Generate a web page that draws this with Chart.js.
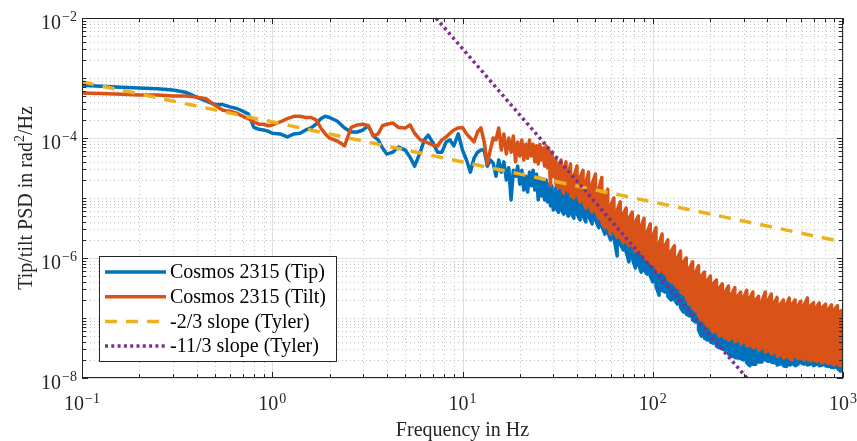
<!DOCTYPE html>
<html>
<head>
<meta charset="utf-8">
<script src="https://cdn.jsdelivr.net/npm/chart.js@4.4.0/dist/chart.umd.min.js"></script>
<style>
  html, body { margin: 0; padding: 0; background: #fff; }
</style>
</head>
<body>
<canvas id="psdChart" width="857" height="441"></canvas>
<script>
// PSD tip/tilt, valeurs

// partie basse fréquence : une seule valeur par fréquence
const freqHz = [
  0.1, 0.15, 0.2, 0.25, 0.3, 0.35, 0.4, 0.45, 0.5, 0.55,
  0.6, 0.65, 0.7, 0.75, 0.8, 0.85, 0.9, 0.95, 1.0, 1.1,
  1.2, 1.3, 1.4, 1.5, 1.6, 1.7, 1.8, 1.9, 2.0, 2.2,
  2.4, 2.6, 2.8, 3.0, 3.2, 3.4, 3.6, 3.8, 4.0, 4.3,
  4.6, 5.0, 5.3, 5.6, 6.0, 6.3, 6.6, 7.0, 7.4, 7.8,
  8.2, 8.6, 9.0, 9.5, 10, 10.5, 11, 11.5, 12, 12.5,
  13, 13.5, 14, 14.5,
  15, 15.5, 16, 16.5, 17, 17.5, 18, 18.5, 19, 19.5,
  20, 20.5, 21, 21.5, 22, 22.5, 23, 23.5, 24, 24.5,
  25, 25.5, 26, 26.5, 27, 27.5, 28, 28.5, 29, 29.5,
  30
];

const tipPsd = [
  7.6e-4, 7.1e-4, 6.8e-4, 6.6e-4, 6.3e-4, 5.8e-4, 4.8e-4, 4.1e-4, 3.6e-4, 3.6e-4,
  3.3e-4, 3.1e-4, 2.8e-4, 2.5e-4, 1.5e-4, 1.4e-4, 1.36e-4, 1.3e-4, 1.2e-4, 1.17e-4,
  1.04e-4, 1.17e-4, 1.2e-4, 1.36e-4, 1.47e-4, 1.7e-4, 2.1e-4, 2.3e-4, 2.2e-4, 1.9e-4,
  1.47e-4, 1.26e-4, 1.26e-4, 1.36e-4, 1.6e-4, 1.08e-4, 9.3e-5, 6.8e-5, 5.4e-5, 5.8e-5,
  7.1e-5, 6.3e-5, 4.8e-5, 3.4e-5, 5.8e-5, 9.3e-5, 1.12e-4, 8.25e-5, 5.8e-5, 5.8e-5,
  8.6e-5, 9.3e-5, 7.4e-5, 1.17e-4, 6.3e-5, 4.3e-5, 2.7e-5, 4.6e-5, 5.8e-5, 6.3e-5,
  6.3e-5, 3.4e-5, 4.3e-5, 3.8e-5,
  2.3e-5, 4.3e-5, 2.7e-5, 4.0e-5, 2.0e-5, 3.2e-5, 9.3e-6, 2.9e-5, 2.3e-5, 3.4e-5,
  1.7e-5, 2.9e-5, 1.36e-5, 2.3e-5, 1.26e-5, 2.7e-5, 1.6e-5, 2.9e-5, 1.36e-5, 2.5e-5,
  9.3e-6, 2.15e-5, 1.08e-5, 1.85e-5, 9.3e-6, 2.0e-5, 8.6e-6, 1.7e-5, 7.4e-6, 1.6e-5,
  6.3e-6
];

const tiltPsd = [
  5.6e-4, 5.4e-4, 5.2e-4, 5.2e-4, 5.0e-4, 5.0e-4, 4.8e-4, 4.5e-4, 3.5e-4, 2.9e-4,
  2.8e-4, 2.6e-4, 2.3e-4, 2.1e-4, 1.85e-4, 1.7e-4, 1.7e-4, 1.6e-4, 1.65e-4, 1.85e-4,
  2.1e-4, 2.3e-4, 2.3e-4, 2.2e-4, 2.2e-4, 2.0e-4, 1.47e-4, 1.17e-4, 1.0e-4, 8.9e-5,
  7.4e-5, 1.5e-4, 1.65e-4, 1.7e-4, 1.6e-4, 1.08e-4, 1.17e-4, 1.6e-4, 1.7e-4, 1.78e-4,
  1.5e-4, 1.47e-4, 1.65e-4, 1.2e-4, 9.3e-5, 8.9e-5, 8.25e-5, 7.6e-5, 7.4e-5, 9.3e-5,
  1.04e-4, 1.2e-4, 1.36e-4, 1.47e-4, 1.5e-4, 1.17e-4, 1.0e-4, 8.6e-5, 1.26e-4, 1.47e-4,
  8.6e-5, 3.7e-5, 6.3e-5, 1.0e-4,
  9.3e-5, 1.47e-4, 6.3e-5, 1.17e-4, 5.4e-5, 1.0e-4, 5.8e-5, 1.08e-4, 4.0e-5, 8.6e-5,
  5.0e-5, 9.3e-5, 4.3e-5, 7.9e-5, 4.6e-5, 9.3e-5, 5.0e-5, 7.9e-5, 4.0e-5, 7.4e-5,
  3.7e-5, 7.9e-5, 4.3e-5, 6.8e-5, 3.4e-5, 7.4e-5, 3.2e-5, 6.3e-5, 1.6e-5, 5.8e-5,
  2.3e-5
];

// partie haute fréquence : bande bruitée, valeur haute et basse à chaque fréquence
const bandFreqHz = [
  31, 32, 33, 34, 35, 36, 37, 38.5, 40, 41.5,
  43, 44.5, 46, 48, 50, 52, 54, 56, 58, 60,
  62.5, 65, 67.5, 70, 72.5, 75, 78, 81, 84, 87,
  90, 93.5, 97, 100, 104, 108, 112, 116, 120, 125,
  130, 135, 140, 145, 150, 156, 162, 168, 174, 180,
  187, 194, 201, 208, 216, 224, 232, 240, 250, 260,
  270, 280, 290, 300, 312, 324, 336, 348, 360, 375,
  390, 405, 420, 435, 450, 468, 486, 504, 522, 540,
  560, 580, 600, 625, 650, 675, 700, 725, 750, 780,
  810, 840, 870, 900, 935, 970, 1000
];

const tipBandHigh = [
  1.5e-5, 1.17e-5, 1.6e-5, 1.08e-5, 1.26e-5, 1.0e-5, 1.36e-5, 9.3e-6, 1.17e-5, 8.6e-6,
  1.08e-5, 7.9e-6, 1.7e-5, 7.9e-6, 1.0e-5, 6.3e-6, 7.9e-6, 5.4e-6, 6.3e-6, 4.3e-6,
  5.4e-6, 3.4e-6, 4.3e-6, 2.9e-6, 3.4e-6, 2.5e-6, 2.7e-6, 2.0e-6, 2.15e-6, 1.6e-6,
  1.8e-6, 1.36e-6, 1.5e-6, 1.08e-6, 1.17e-6, 8.6e-7, 9.3e-7, 7.4e-7, 7.4e-7, 5.8e-7,
  5.8e-7, 4.3e-7, 4.3e-7, 3.4e-7, 3.2e-7, 2.7e-7, 2.3e-7, 2.0e-7, 1.7e-7, 1.5e-7,
  1.26e-7, 1.08e-7, 1.0e-7, 9.3e-8, 7.9e-8, 7.4e-8, 6.8e-8, 6.3e-8, 5.8e-8, 5.4e-8,
  5.0e-8, 5.0e-8, 4.6e-8, 4.6e-8, 4.3e-8, 4.3e-8, 4.0e-8, 4.0e-8, 3.7e-8, 3.7e-8,
  3.7e-8, 3.55e-8, 3.55e-8, 3.4e-8, 3.4e-8, 3.3e-8, 3.2e-8, 3.2e-8, 3.3e-8, 3.2e-8,
  3.2e-8, 3.05e-8, 3.05e-8, 3.05e-8, 2.9e-8, 2.9e-8, 2.9e-8, 2.8e-8, 2.8e-8, 2.8e-8,
  2.7e-8, 2.7e-8, 2.7e-8, 2.6e-8, 2.6e-8, 2.5e-8, 2.5e-8
];

const tipBandLow = [
  6.8e-6, 5.8e-6, 6.6e-6, 5.4e-6, 6.1e-6, 5.0e-6, 5.8e-6, 4.6e-6, 5.4e-6, 4.3e-6,
  5.0e-6, 4.0e-6, 5.0e-6, 3.7e-6, 4.3e-6, 3.2e-6, 3.4e-6, 2.5e-6, 2.7e-6, 2.0e-6,
  2.15e-6, 1.08e-6, 1.7e-6, 1.36e-6, 1.26e-6, 8.6e-7, 1.0e-6, 6.8e-7, 7.9e-7, 5.8e-7,
  6.3e-7, 5.4e-7, 5.0e-7, 4.0e-7, 3.4e-7, 2.4e-7, 2.9e-7, 2.7e-7, 2.3e-7, 2.0e-7,
  2.0e-7, 1.7e-7, 1.5e-7, 1.26e-7, 1.17e-7, 1.08e-7, 9.3e-8, 8.6e-8, 6.3e-8, 5.0e-8,
  4.6e-8, 4.3e-8, 4.0e-8, 3.8e-8, 3.4e-8, 3.2e-8, 3.05e-8, 2.9e-8, 2.5e-8, 2.3e-8,
  2.2e-8, 2.15e-8, 2.1e-8, 2.0e-8, 1.8e-8, 1.6e-8, 1.7e-8, 1.7e-8, 1.85e-8, 1.85e-8,
  2.0e-8, 1.9e-8, 1.85e-8, 1.8e-8, 1.65e-8, 1.7e-8, 1.6e-8, 1.55e-8, 1.65e-8, 1.7e-8,
  1.6e-8, 1.7e-8, 1.8e-8, 1.7e-8, 1.65e-8, 1.7e-8, 1.6e-8, 1.7e-8, 1.6e-8, 1.65e-8,
  1.6e-8, 1.55e-8, 1.5e-8, 1.5e-8, 1.45e-8, 1.3e-8, 1.7e-8
];

const tiltBandHigh = [
  4.6e-5, 3.4e-5, 4.3e-5, 2.9e-5, 4.0e-5, 2.5e-5, 3.7e-5, 2.3e-5, 3.4e-5, 2.2e-5,
  2.9e-5, 1.8e-5, 2.7e-5, 1.7e-5, 2.5e-5, 1.4e-5, 2.2e-5, 1.1e-5, 1.4e-5, 7.4e-6,
  1.0e-5, 6.3e-6, 8.6e-6, 5.4e-6, 6.8e-6, 4.6e-6, 5.8e-6, 4.0e-6, 5.0e-6, 3.4e-6,
  4.6e-6, 2.7e-6, 3.7e-6, 2.3e-6, 3.2e-6, 1.7e-6, 2.5e-6, 1.6e-6, 2.0e-6, 1.3e-6,
  1.6e-6, 1.0e-6, 1.3e-6, 8.6e-7, 1.0e-6, 6.8e-7, 8.6e-7, 5.8e-7, 7.4e-7, 5.0e-7,
  5.8e-7, 4.3e-7, 5.0e-7, 3.7e-7, 4.3e-7, 3.2e-7, 3.7e-7, 2.7e-7, 3.4e-7, 2.5e-7,
  3.2e-7, 2.3e-7, 2.7e-7, 2.15e-7, 2.9e-7, 2.15e-7, 2.7e-7, 2.0e-7, 2.3e-7, 1.9e-7,
  2.7e-7, 2.0e-7, 2.5e-7, 1.8e-7, 2.2e-7, 1.7e-7, 2.0e-7, 1.65e-7, 2.15e-7, 1.7e-7,
  2.0e-7, 1.6e-7, 1.9e-7, 1.65e-7, 2.15e-7, 1.6e-7, 1.8e-7, 1.5e-7, 1.78e-7, 1.5e-7,
  1.7e-7, 1.4e-7, 1.65e-7, 1.36e-7, 1.6e-7, 1.3e-7, 1.36e-7
];

const tiltBandLow = [
  1.7e-5, 1.5e-5, 1.6e-5, 1.2e-5, 1.5e-5, 1.3e-5, 1.1e-5, 1.0e-5, 1.2e-5, 8.6e-6,
  9.3e-6, 6.8e-6, 7.9e-6, 5.8e-6, 6.3e-6, 4.6e-6, 4.0e-6, 3.2e-6, 3.4e-6, 2.5e-6,
  2.9e-6, 2.2e-6, 2.3e-6, 1.8e-6, 2.0e-6, 1.6e-6, 1.7e-6, 1.3e-6, 1.4e-6, 1.2e-6,
  1.1e-6, 9.3e-7, 8.6e-7, 7.9e-7, 6.8e-7, 5.8e-7, 6.3e-7, 5.4e-7, 4.6e-7, 4.0e-7,
  3.7e-7, 3.2e-7, 2.7e-7, 2.5e-7, 2.2e-7, 1.7e-7, 1.5e-7, 1.3e-7, 1.1e-7, 9.3e-8,
  8.6e-8, 7.4e-8, 6.8e-8, 5.8e-8, 6.3e-8, 5.0e-8, 5.4e-8, 4.6e-8, 4.3e-8, 4.6e-8,
  4.0e-8, 4.3e-8, 3.7e-8, 4.0e-8, 3.4e-8, 3.5e-8, 3.2e-8, 3.4e-8, 2.9e-8, 3.2e-8,
  2.7e-8, 2.9e-8, 2.5e-8, 2.7e-8, 2.3e-8, 2.4e-8, 2.15e-8, 2.3e-8, 2.15e-8, 2.0e-8,
  2.4e-8, 2.1e-8, 2.2e-8, 2.0e-8, 2.1e-8, 1.95e-8, 2.0e-8, 1.9e-8, 1.95e-8, 1.8e-8,
  1.9e-8, 1.75e-8, 1.8e-8, 1.65e-8, 1.75e-8, 1.6e-8, 2.0e-8
];

// droites de Tyler (extrémités)
const shallowFreq = [0.1, 1000];
const shallowPsd = [8.6e-4, 1.85e-6];
const steepFreq = [7.26, 312.6];
const steepPsd = [1e-2, 1e-8];

const xTickExponents = [-1, 0, 1, 2, 3];
const yTickExponents = [-2, -4, -6, -8];
const legendLabels = ['Cosmos 2315 (Tip)', 'Cosmos 2315 (Tilt)', '-2/3 slope (Tyler)', '-11/3 slope (Tyler)'];

const serif = '"Liberation Serif", "Times New Roman", serif';
const axisColor = '#262626';

function toPoints(xs, ys) {
  return xs.map((x, i) => ({ x: x, y: ys[i] }));
}

// ligne simple puis bande : à chaque fréquence on passe par le haut et le bas
function seriesPoints(psd, bandHigh, bandLow) {
  const pts = toPoints(freqHz, psd);
  bandFreqHz.forEach((f, k) => {
    if (k % 2 === 0) {
      pts.push({ x: f, y: bandHigh[k] }, { x: f, y: bandLow[k] });
    } else {
      pts.push({ x: f, y: bandLow[k] }, { x: f, y: bandHigh[k] });
    }
  });
  return pts;
}

// "10" + exposant
function drawPower(ctx, exp, x, y, align) {
  const sup = exp < 0 ? '\u2212' + Math.abs(exp) : String(exp);
  ctx.font = '20px ' + serif;
  const wBase = ctx.measureText('10').width;
  ctx.font = '14px ' + serif;
  const wSup = ctx.measureText(sup).width;
  const total = wBase + 1 + wSup;
  const left = align === 'right' ? x - total : x - total / 2;
  ctx.textAlign = 'left';
  ctx.textBaseline = 'alphabetic';
  ctx.font = '20px ' + serif;
  ctx.fillText('10', left, y);
  ctx.font = '14px ' + serif;
  ctx.fillText(sup, left + wBase + 1, y - 7.5);
}

function minorValues(fromExp, toExp) {
  const vals = [];
  for (let e = fromExp; e < toExp; e++) {
    for (let m = 2; m <= 9; m++) vals.push(m * Math.pow(10, e));
  }
  return vals;
}

function yMinorTicks() {
  return minorValues(-8, -2).concat([1e-7, 1e-5, 1e-3]);
}

const matlabAxes = {
  id: 'matlabAxes',
  beforeDraw(chart) {
    const ctx = chart.ctx;
    ctx.save();
    ctx.fillStyle = '#ffffff';
    ctx.fillRect(0, 0, chart.width, chart.height);
    ctx.restore();
  },
  beforeDatasetsDraw(chart) {
    const { ctx, chartArea: a, scales: { x, y } } = chart;
    ctx.save();
    ctx.lineWidth = 1;

    // grille mineure pointillée
    ctx.strokeStyle = '#c2c2c2';
    ctx.setLineDash([1, 3]);
    minorValues(-1, 3).forEach((v) => {
      const px = Math.round(x.getPixelForValue(v)) + 0.5;
      ctx.beginPath(); ctx.moveTo(px, a.top); ctx.lineTo(px, a.bottom); ctx.stroke();
    });
    yMinorTicks().forEach((v) => {
      const py = Math.round(y.getPixelForValue(v)) + 0.5;
      ctx.beginPath(); ctx.moveTo(a.left, py); ctx.lineTo(a.right, py); ctx.stroke();
    });

    // grille principale
    ctx.setLineDash([]);
    ctx.strokeStyle = '#dedede';
    xTickExponents.forEach((e) => {
      const px = Math.round(x.getPixelForValue(Math.pow(10, e))) + 0.5;
      ctx.beginPath(); ctx.moveTo(px, a.top); ctx.lineTo(px, a.bottom); ctx.stroke();
    });
    yTickExponents.forEach((e) => {
      const py = Math.round(y.getPixelForValue(Math.pow(10, e))) + 0.5;
      ctx.beginPath(); ctx.moveTo(a.left, py); ctx.lineTo(a.right, py); ctx.stroke();
    });
    ctx.restore();
  },
  afterDatasetsDraw(chart) {
    const { ctx, chartArea: a, scales: { x, y } } = chart;
    ctx.save();

    // cadre + graduations vers l'intérieur
    ctx.strokeStyle = axisColor;
    ctx.lineWidth = 1;
    ctx.setLineDash([]);
    ctx.strokeRect(a.left + 0.5, a.top + 0.5, a.right - a.left - 1, a.bottom - a.top - 1);

    const xTicks = minorValues(-1, 3).map((v) => [v, 4])
      .concat(xTickExponents.map((e) => [Math.pow(10, e), 6]));
    xTicks.forEach(([v, len]) => {
      const px = Math.round(x.getPixelForValue(v)) + 0.5;
      ctx.beginPath();
      ctx.moveTo(px, a.bottom); ctx.lineTo(px, a.bottom - len);
      ctx.moveTo(px, a.top); ctx.lineTo(px, a.top + len);
      ctx.stroke();
    });
    const yTicks = yMinorTicks().map((v) => [v, 4])
      .concat(yTickExponents.map((e) => [Math.pow(10, e), 6]));
    yTicks.forEach(([v, len]) => {
      const py = Math.round(y.getPixelForValue(v)) + 0.5;
      ctx.beginPath();
      ctx.moveTo(a.left, py); ctx.lineTo(a.left + len, py);
      ctx.moveTo(a.right, py); ctx.lineTo(a.right - len, py);
      ctx.stroke();
    });

    // étiquettes
    ctx.fillStyle = axisColor;
    xTickExponents.forEach((e) => {
      drawPower(ctx, e, x.getPixelForValue(Math.pow(10, e)), a.bottom + 32, 'center');
    });
    yTickExponents.forEach((e) => {
      drawPower(ctx, e, a.left - 5, y.getPixelForValue(Math.pow(10, e)) + 10.5, 'right');
    });

    // titres des axes
    ctx.font = '20px ' + serif;
    ctx.textAlign = 'center';
    ctx.textBaseline = 'alphabetic';
    ctx.fillText('Frequency in Hz', (a.left + a.right) / 2, a.bottom + 58);

    ctx.save();
    ctx.translate(32, (a.top + a.bottom) / 2);
    ctx.rotate(-Math.PI / 2);
    const p1 = 'Tip/tilt PSD in rad', p2 = '2', p3 = '/Hz';
    ctx.font = '20px ' + serif;
    const w1 = ctx.measureText(p1).width, w3 = ctx.measureText(p3).width;
    ctx.font = '14px ' + serif;
    const w2 = ctx.measureText(p2).width;
    let cx = -(w1 + w2 + w3) / 2;
    ctx.textAlign = 'left';
    ctx.font = '20px ' + serif;
    ctx.fillText(p1, cx, 0); cx += w1;
    ctx.font = '14px ' + serif;
    ctx.fillText(p2, cx, -8); cx += w2;
    ctx.font = '20px ' + serif;
    ctx.fillText(p3, cx, 0);
    ctx.restore();

    // légende
    const lx = 99.5, ly = 256.5, lw = 237, lh = 105;
    ctx.fillStyle = '#ffffff';
    ctx.fillRect(lx, ly, lw, lh);
    ctx.strokeStyle = axisColor;
    ctx.strokeRect(lx, ly, lw, lh);
    chart.data.datasets.forEach((ds, i) => {
      const rowY = 272 + i * 24.7;
      ctx.strokeStyle = ds.borderColor;
      ctx.lineWidth = 3.5;
      ctx.setLineDash(ds.borderDash || []);
      ctx.beginPath(); ctx.moveTo(105, rowY); ctx.lineTo(166, rowY); ctx.stroke();
      ctx.setLineDash([]);
      ctx.fillStyle = '#000000';
      ctx.font = '20px ' + serif;
      ctx.textAlign = 'left';
      ctx.textBaseline = 'middle';
      ctx.fillText(legendLabels[i], 170, rowY + 1);
    });
    ctx.restore();
  },
};

function initPsdChart() {
  const ctx = document.getElementById('psdChart').getContext('2d');

  const lineBase = { pointRadius: 0, tension: 0, fill: false, borderJoinStyle: 'round' };

  const data = {
    datasets: [
      { ...lineBase, label: legendLabels[0], data: seriesPoints(tipPsd, tipBandHigh, tipBandLow),
        borderColor: '#0072BD', borderWidth: 3.5, order: 4 },
      { ...lineBase, label: legendLabels[1], data: seriesPoints(tiltPsd, tiltBandHigh, tiltBandLow),
        borderColor: '#D95319', borderWidth: 3.5, order: 3 },
      { ...lineBase, label: legendLabels[2], data: toPoints(shallowFreq, shallowPsd),
        borderColor: '#EDB120', borderWidth: 3.5, borderDash: [12, 9], order: 2 },
      { ...lineBase, label: legendLabels[3], data: toPoints(steepFreq, steepPsd),
        borderColor: '#7E2F8E', borderWidth: 3.5, borderDash: [3, 3.3], order: 1 },
    ],
  };

  const config = {
    type: 'line',
    data: data,
    options: {
      responsive: false,
      animation: false,
      layout: { padding: { left: 82, top: 18, right: 14, bottom: 63 } },
      scales: {
        x: { type: 'logarithmic', min: 0.1, max: 1000, display: false },
        y: { type: 'logarithmic', min: 1e-8, max: 1e-2, display: false },
      },
      plugins: {
        legend: { display: false },
        tooltip: { enabled: false },
      },
    },
    plugins: [matlabAxes],
  };

  new Chart(ctx, config);
}

initPsdChart();
</script>
</body>
</html>
